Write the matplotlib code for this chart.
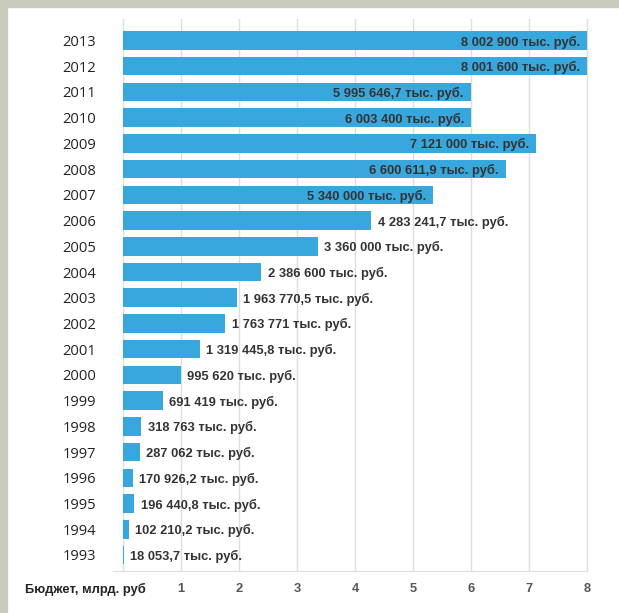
import matplotlib.pyplot as plt
from matplotlib.patches import Rectangle

# бюджет по годам, тыс. руб.
years = [2013, 2012, 2011, 2010, 2009, 2008, 2007, 2006, 2005, 2004, 2003,
         2002, 2001, 2000, 1999, 1998, 1997, 1996, 1995, 1994, 1993]
budget = [8002900, 8001600, 5995646.7, 6003400, 7121000, 6600611.9, 5340000,
          4283241.7, 3360000, 2386600, 1963770.5, 1763771, 1319445.8, 995620,
          691419, 318763, 287062, 170926.2, 196440.8, 102210.2, 18053.7]
xticks = [1, 2, 3, 4, 5, 6, 7, 8]


def fmt(v):
    s = f"{v:,.1f}".replace(",", " ").replace(".", ",")
    if s.endswith(",0"):
        s = s[:-2]
    return s + " тыс. руб."


W, H = 619, 613
fig = plt.figure(figsize=(W / 100, H / 100), dpi=100)
fig.patch.set_facecolor("white")
band = "#cbcbbb"
fig.patches.append(Rectangle((0, 1 - 7 / H), 1, 7 / H, transform=fig.transFigure, color=band))
fig.patches.append(Rectangle((0, 0), 7 / W, 1, transform=fig.transFigure, color=band))

ax = fig.add_axes([113 / W, 1 - 571 / H, (592 - 113) / W, 552 / H])
ypos = list(range(len(years)))[::-1]
mlrd = [b / 1e6 for b in budget]
ax.barh(ypos, mlrd, height=0.72, color="#38a7dd", zorder=2)
ax.set_xlim(-0.1724, 8.086)
ax.set_ylim(-0.622, 20.836)

for x in range(0, 9):
    ax.axvline(x, color="#dedede", lw=1, zorder=0)
for s in ["top", "right", "left"]:
    ax.spines[s].set_visible(False)
ax.spines["bottom"].set_bounds(-0.1724, 8)
ax.spines["bottom"].set_color("#dedede")

lab_font = dict(family=["Liberation Sans", "DejaVu Sans"], weight="bold", size=9.3, color="#333333")
for yp, v, b in zip(ypos, mlrd, budget):
    if v > 5:
        ax.annotate(fmt(b), (v, yp), xytext=(-5, 0), textcoords="offset points",
                    ha="right", va="center_baseline", zorder=3, **lab_font)
    else:
        ax.annotate(fmt(b), (v, yp), xytext=(4.5, 0), textcoords="offset points",
                    ha="left", va="center_baseline", zorder=3, **lab_font)

ax.set_xticks(xticks)
ax.set_xticklabels([str(t) for t in xticks], family=["Liberation Sans", "DejaVu Sans"],
                   weight="bold", size=9.3, color="#555555")
ax.set_yticks(ypos)
ax.set_yticklabels([str(y) for y in years], family=["Open Sans", "DejaVu Sans"],
                   size=10.6, color="#222222")
ax.tick_params(axis="x", length=0, pad=9)
ax.tick_params(axis="y", length=0, pad=12.2)

fig.text(25 / W, 1 - 589 / H, "Бюджет, млрд. руб", family=["Liberation Sans", "DejaVu Sans"],
         weight="bold", size=9.3, color="#222222", va="center", ha="left")

fig.savefig("out.png", dpi=100)
